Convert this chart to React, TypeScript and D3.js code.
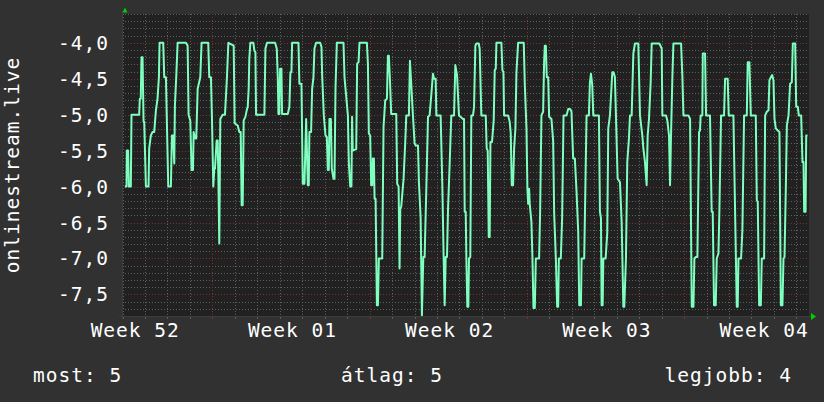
import React from "react";
import * as d3 from "d3";

const W = 824;
const H = 402;

// hours since the left edge of the graph (Thu 00:00, week 52)
const hours = [
  2.5, 4.3, 4.6, 6.0, 6.8, 8.9, 9.6, 17.8, 18.5, 19.5, 20.3, 21.4, 22.5, 23.2, 25.0, 27.8, 28.5, 30.3, 32.1, 33.9,
  35.7, 37.4, 38.9, 39.6, 43.5, 44.6, 46.4, 47.4, 48.9, 51.7, 52.8, 54.2, 55.3, 56.0, 57.4, 58.9, 67.8, 69.6, 70.6, 72.4,
  73.8, 75.3, 76.0, 77.4, 78.8, 80.3, 83.1, 84.5, 91.6, 92.7, 94.5, 95.6, 97.0, 98.1, 98.8, 100.6, 101.7, 102.4, 103.4, 104.5,
  107.0, 109.5, 111.6, 113.1,
  118.8, 119.8, 123.1, 124.8, 126.3, 127.3, 128.4, 129.5, 131.3, 132.7, 133.8, 134.8, 135.5, 136.6, 139.8, 140.9, 142.0, 142.7,
  151.6, 152.7, 154.4, 163.0, 164.8, 165.9, 166.6, 167.6, 168.4, 169.8, 170.5, 176.6, 178.3, 179.4, 180.5, 181.2, 188.0, 189.0,
  191.2, 192.6, 194.4, 196.2, 198.0, 199.0, 199.7, 201.5, 202.6, 204.0, 205.1, 206.9, 211.2, 212.6, 213.3, 215.1, 216.9, 218.3,
  219.4, 220.4, 221.1, 222.6, 223.6, 225.4, 226.5, 227.6, 229.0, 236.1, 237.2, 240.8, 241.8, 243.3, 244.6, 245.3, 246.0, 249.7,
  250.7, 252.2, 253.2, 261.1, 262.2, 263.2, 264.6, 265.7, 266.8, 267.5, 268.6, 269.3, 270.4, 271.8, 272.9, 273.9, 277.5, 278.9,
  280.7, 282.5, 283.6, 284.6, 285.7, 287.1, 292.5, 293.5, 295.0, 296.0, 296.8, 297.8, 300.3, 302.1, 303.2, 306.0, 307.1, 308.2,
  310.3, 312.1, 313.2, 315.7, 316.7, 318.5, 319.9, 321.4, 322.8, 324.6, 326.4, 328.1, 329.9, 331.7, 332.8, 334.6, 335.3, 339.9,
  341.7, 343.1, 344.2, 345.3, 346.7, 347.8, 349.5, 351.3, 354.2, 355.6, 357.4, 359.5, 363.8,
  364.9, 365.6, 366.7, 367.4, 368.4, 369.5, 370.2, 371.6, 372.7, 374.5, 375.6, 377.0, 378.1, 380.6, 381.6, 383.4, 388.1, 389.1,
  390.2, 391.3, 392.3, 393.1, 394.8, 396.6, 397.7, 398.8, 399.5, 404.8, 405.9, 407.0, 407.7, 412.0, 413.7, 414.8, 415.9, 417.3,
  418.4, 419.8, 420.9, 422.7, 428.7, 429.8, 431.6, 432.6, 433.4, 434.4, 435.1, 436.9, 438.0, 439.1, 440.5, 441.6, 445.1, 446.2,
  447.6, 449.4, 450.5, 451.2, 452.3, 453.3, 454.8, 455.8, 458.3, 460.1, 461.2, 463.0, 464.4, 465.5, 466.2, 468.3, 469.7, 471.2,
  474.4, 476.2, 478.3, 479.7, 481.5, 483.3, 485.1, 486.9,
  488.0, 489.8, 490.5, 493.3, 494.7, 495.8, 498.3, 499.4, 500.5, 501.9, 503.0, 509.0, 510.1, 511.2, 511.9, 513.0, 513.7, 516.2,
  517.9, 519.0, 520.8, 523.3, 524.7, 526.1, 527.2, 529.0, 531.5, 533.3, 535.1, 536.1, 537.9, 539.3, 541.1, 542.2, 544.0, 545.8,
  547.5, 551.1, 552.9, 555.4, 556.5, 558.2, 560.0, 561.1, 562.5, 564.3, 565.4, 573.6, 576.1, 576.8, 580.7, 582.1, 583.9, 585.0,
  586.1, 587.5, 588.6, 596.8, 598.2, 599.3, 604.6, 606.4, 608.2, 610.0, 611.0, 612.5,
  614.2, 616.0, 617.0, 617.7, 619.5, 620.0, 622.4, 623.5, 627.7, 629.5, 630.6, 632.0, 633.8, 634.9, 636.7, 637.7, 639.5, 642.7,
  643.8, 646.6, 647.7, 652.7, 654.5, 656.3, 657.3, 658.1, 660.9, 662.3, 664.1, 667.0, 668.0, 669.8, 671.3, 676.6, 677.7, 678.7,
  680.2, 682.0, 683.0, 685.5, 686.6, 688.4, 690.2, 691.2, 692.7, 694.1, 695.5, 696.6, 698.0, 700.1, 701.9, 703.4, 705.1, 706.2,
  707.3, 708.7, 709.8, 711.6, 713.3, 715.1, 716.2, 718.7, 719.8, 721.5, 722.6, 725.1, 726.5, 727.6, 728.3, 729.8, 730.5, 731.9,
];

const values = [
  -6.0, -6.0, -5.5, -5.5, -6.0, -6.0, -5.0, -5.0, -4.78, -4.78, -4.2, -4.2, -5.1, -5.1, -6.0, -6.0, -5.47, -5.29, -5.24, -5.24,
  -4.94, -4.78, -4.48, -4.0, -4.0, -4.48, -4.48, -5.1, -6.0, -6.0, -5.29, -5.29, -5.68, -4.87, -4.48, -4.0, -4.0, -4.04, -5.0, -5.08,
  -5.77, -5.77, -5.24, -5.33, -5.33, -4.64, -4.48, -4.0, -4.0, -4.48, -4.48, -5.06, -6.0, -5.75, -5.75, -5.36, -5.36, -5.84, -6.79, -5.06,
  -5.0, -5.0, -4.48, -4.0,
  -4.04, -5.12, -5.15, -5.24, -5.24, -6.26, -6.26, -5.08, -5.03, -4.94, -4.89, -4.64, -4.22, -4.0, -4.0, -4.11, -4.13, -5.0,
  -5.0, -4.08, -4.0, -4.0, -4.08, -4.48, -4.99, -4.99, -4.36, -4.36, -4.99, -4.99, -4.89, -4.41, -4.41, -4.0, -4.0, -4.57,
  -4.57, -5.96, -5.96, -5.06, -5.98, -5.98, -5.24, -5.24, -4.64, -4.48, -4.08, -4.0, -4.0, -4.06, -4.45, -5.01, -5.29, -5.31,
  -5.77, -5.77, -5.06, -5.06, -5.75, -5.89, -5.89, -4.62, -4.0, -4.0, -4.48, -5.01, -5.66, -6.0, -6.0, -5.03, -5.5, -5.48,
  -4.29, -4.27, -4.0, -4.0, -4.29, -5.26, -5.29, -5.98, -5.98, -5.61, -5.61, -6.17, -6.17, -7.65, -7.65, -7.0, -7.0, -5.17,
  -4.8, -4.78, -4.18, -4.18, -4.5, -4.99, -4.99, -5.96, -6.0, -7.14, -6.31, -6.28, -5.89, -5.38, -5.01, -5.01, -4.25, -4.5,
  -5.01, -5.4, -5.43, -5.43, -5.94, -6.42, -7.79, -6.98, -6.98, -6.03, -5.03, -5.01, -4.73, -4.43, -4.5, -4.5, -5.01, -5.01,
  -5.98, -6.98, -7.65, -6.98, -6.98, -6.31, -5.7, -5.01, -5.01, -4.31, -4.45, -5.01, -5.06,
  -5.06, -6.35, -6.35, -7.0, -7.67, -7.67, -7.0, -6.98, -5.01, -5.01, -4.89, -4.04, -4.01, -4.01, -4.08, -5.01, -5.01, -5.47,
  -5.5, -6.7, -6.7, -5.38, -5.38, -5.08, -4.38, -4.36, -4.0, -4.0, -4.38, -4.41, -5.01, -5.01, -5.1, -5.26, -5.98, -5.98,
  -5.47, -5.19, -4.41, -4.0, -4.0, -4.57, -5.19, -6.03, -6.24, -6.03, -6.24, -6.49, -7.0, -7.69, -7.69, -7.0, -7.0, -6.35,
  -5.01, -4.96, -4.25, -4.04, -4.04, -4.48, -4.48, -5.03, -5.06, -5.36, -6.37, -7.0, -7.67, -7.67, -7.0, -7.0, -6.44, -5.01,
  -5.01, -4.92, -4.92, -4.96, -5.61, -5.61, -6.07, -6.63,
  -7.65, -7.65, -7.0, -7.0, -5.89, -5.01, -5.01, -4.55, -4.43, -4.59, -5.01, -5.01, -6.35, -6.44, -7.65, -7.65, -7.0, -7.0,
  -6.65, -5.19, -5.01, -4.41, -4.41, -4.48, -5.01, -5.89, -5.94, -6.49, -7.67, -7.67, -7.0, -5.66, -5.33, -5.01, -5.01, -4.15,
  -4.01, -4.01, -5.01, -5.29, -5.47, -5.66, -5.98, -5.29, -5.06, -4.55, -4.01, -4.01, -4.08, -5.01, -5.01, -5.08, -5.29, -5.98,
  -5.26, -4.48, -4.01, -4.01, -4.48, -5.01, -5.01, -5.06, -7.67, -7.67, -7.0, -6.98,
  -6.98, -5.24, -5.22, -5.01, -5.01, -4.15, -4.15, -5.01, -5.01, -6.35, -6.35, -7.65, -7.65, -7.0, -6.93, -6.35, -5.01, -5.01,
  -4.5, -4.5, -5.01, -5.01, -6.35, -7.67, -7.67, -7.0, -7.0, -6.6, -5.01, -5.01, -4.27, -4.27, -5.01, -5.01, -6.19, -6.21,
  -7.65, -7.65, -7.0, -7.0, -5.01, -4.96, -4.94, -4.52, -4.48, -4.45, -4.52, -5.06, -5.19, -5.22, -5.24, -7.65, -7.65, -7.0,
  -6.98, -6.03, -5.15, -5.01, -4.57, -4.55, -4.01, -4.01, -4.89, -4.89, -5.01, -5.01, -5.66, -5.66, -6.35, -6.35, -5.29, -5.29,
];

const yTicks = [-4.0, -4.5, -5.0, -5.5, -6.0, -6.5, -7.0, -7.5];
const weekLabels = ["Week 52", "Week 01", "Week 02", "Week 03", "Week 04"];
const weekCenterHours = [12, 180, 348, 516, 684];
const weekStartHours = [96, 264, 432, 600];
const legendItems = ["most: 5", "átlag: 5", "legjobb: 4"];
const yTitle = "onlinestream.live";

const X_DOMAIN = [0, 734];
const Y_DOMAIN = [-7.8, -3.6];

const PL = 122, PR = 809, PT = 14, PB = 316;

const FONT = "'DejaVu Sans Mono', monospace";

export default function App() {
  const x = d3.scaleLinear().domain(X_DOMAIN).range([PL + 0.5, PR + 0.5]);
  const y = d3.scaleLinear().domain(Y_DOMAIN).range([PB, PT]);

  const pts: [number, number][] = hours.map((h, i) => [h, values[i]]);
  const line = d3
    .line<[number, number]>()
    .x((d) => x(d[0]))
    .y((d) => y(d[1]));

  const hGrid: { v: number; major: boolean }[] = [];
  for (let i = 0; i <= 42; i++) {
    const v = -7.8 + i * 0.1;
    const t = Math.round(v * 10);
    hGrid.push({ v, major: t % 5 === 0 });
  }
  const vGrid: { h: number; major: boolean }[] = [];
  for (let k = 0; k * 24 <= X_DOMAIN[1]; k++) {
    const h = k * 24;
    vGrid.push({ h, major: weekStartHours.includes(h) });
  }

  const textStyle: React.CSSProperties = {
    fontFamily: FONT,
    fontSize: 19.5,
    letterSpacing: 1,
    fill: "#ffffff",
  };

  const minorC = "#5e5e5e";
  const majorC = "#7a3030";

  return (
    <svg width={W} height={H} style={{ position: "absolute", left: 0, top: 0, display: "block" }}>
      <rect x={0} y={0} width={W} height={H} fill="#313131" />
      <rect x={PL} y={PT} width={PR - PL} height={PB - PT} fill="#212121" />

      {hGrid.map((g, i) => {
        const yy = Math.round(y(g.v)) + 0.5;
        return (
          <line
            key={"h" + i}
            x1={PL}
            x2={PR}
            y1={yy}
            y2={yy}
            stroke={g.major ? majorC : minorC}
            strokeWidth={1}
            strokeDasharray="1,2"
          />
        );
      })}
      {vGrid.map((g, i) => {
        const xx = Math.round(x(g.h)) + 0.5;
        return (
          <g key={"v" + i}>
            <line
              x1={xx}
              x2={xx}
              y1={PT}
              y2={PB}
              stroke={g.major ? majorC : minorC}
              strokeWidth={1}
              strokeDasharray="1,2"
            />
            <line x1={xx} x2={xx} y1={PB} y2={PB + 3} stroke={g.major ? majorC : minorC} strokeWidth={1} />
          </g>
        );
      })}

      <line x1={PL - 3} x2={PR + 3} y1={PB + 0.5} y2={PB + 0.5} stroke="#3c3c3c" strokeWidth={1} />
      <line x1={PL + 0.5} x2={PL + 0.5} y1={PT - 3} y2={PB + 3} stroke="#3c3c3c" strokeWidth={1} />
      <path d={`M${PL + 0.5},${PT - 1.5} L${PL + 3},${PT - 6.5} L${PL + 5.5},${PT - 1.5} Z`} fill="#00d000" />
      <path d={`M${PR + 2},${PB - 3} L${PR + 7},${PB + 0.5} L${PR + 2},${PB + 4} Z`} fill="#00d000" />

      <path
        d={line(pts) || ""}
        fill="none"
        stroke="#7fffbf"
        strokeWidth={2}
        strokeLinejoin="round"
      />

      {yTicks.map((t) => (
        <text key={t} x={109} y={y(t) + 7} textAnchor="end" style={textStyle}>
          {t.toFixed(1).replace(".", ",")}
        </text>
      ))}

      {weekLabels.map((lab, i) => (
        <text key={lab} x={x(weekCenterHours[i]) + 1.5} y={337} textAnchor="middle" style={textStyle}>
          {lab}
        </text>
      ))}

      <text
        transform={`translate(19,${(PT + PB) / 2}) rotate(-90)`}
        textAnchor="middle"
        style={textStyle}
      >
        {yTitle}
      </text>

      <text x={33} y={382} textAnchor="start" style={textStyle}>
        {legendItems[0]}
      </text>
      <text x={392} y={382} textAnchor="middle" style={textStyle}>
        {legendItems[1]}
      </text>
      <text x={792} y={382} textAnchor="end" style={textStyle}>
        {legendItems[2]}
      </text>
    </svg>
  );
}
